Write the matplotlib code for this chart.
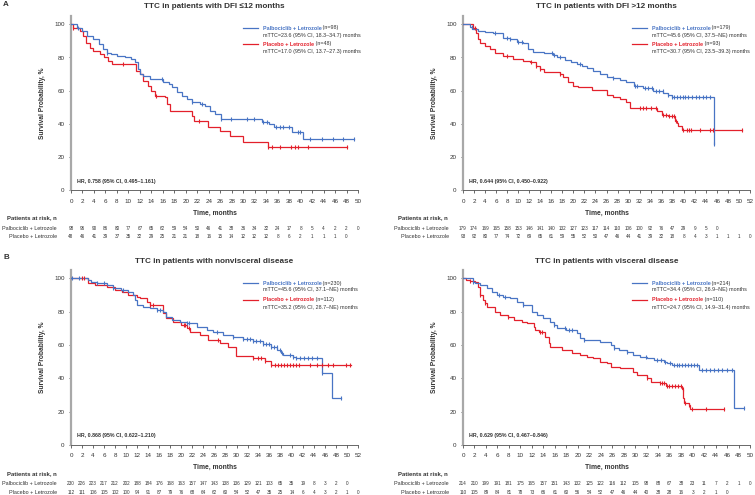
"""Time to chemotherapy (TTC) Kaplan-Meier curves by subgroup, 2x2 panels with at-risk tables."""

import matplotlib

matplotlib.use("Agg")
import matplotlib.pyplot as plt
import numpy as np
from matplotlib.lines import Line2D
from matplotlib.transforms import blended_transform_factory

plt.rcParams["font.family"] = ["Liberation Sans", "DejaVu Sans"]

BLUE = "#4874c4"
RED = "#e3202b"
DARK = "#333333"

# ---- panel A, left: DFI <=12 months --------------------------------------
le12_palbo_t = [0, 1.0, 1.9, 2.8, 3.9, 4.8, 5.6, 6.2, 6.9, 8.0, 9.4, 10.5, 11.1, 11.7, 12.0, 12.6,
                13.8, 16.0, 17.0, 17.6, 18.4, 19.3, 20.2, 21.0, 22.5, 23.3, 24.2, 25.1, 26.2, 33.3,
                34.5, 35.4, 38.5, 40.5, 49.3]
le12_palbo_s = [100, 98, 96, 93, 91, 88, 85, 83, 82, 81, 80, 79, 77, 73, 70, 69,
                67, 65, 64, 62, 59, 57, 55, 53, 52, 51, 48, 46, 43, 41,
                40, 38, 35, 31, 31]
le12_palbo_c = [1.3, 6.3, 15.8, 21.1, 22.9, 26.2, 27.9, 30.6, 31.8, 33.5, 34.1, 35.8, 36.4, 37.0,
                37.9, 39.5, 39.9, 41.6, 43.7, 45.7, 47.4, 49.3]
le12_plac_t = [0, 0.3, 1.6, 2.1, 2.7, 3.3, 3.9, 5.0, 5.8, 6.5, 7.1, 11.4, 12.0, 12.5, 13.5, 14.0, 14.6,
               16.4, 16.8, 17.2, 21.0, 21.5, 23.9, 26.0, 27.7, 30.0, 34.4, 48.0]
le12_plac_s = [100, 98, 96, 93, 89, 86, 84, 82, 80, 78, 76, 72, 70, 66, 63, 60, 57,
               56, 52, 48, 45, 42, 38, 36, 33, 29, 26, 26]
le12_plac_c = [0.4, 9.1, 14.8, 22.3, 34.4, 35.0, 36.4, 38.3, 39.0, 39.6, 41.3, 48.0]
le12_risk_palbo = [98, 96, 90, 86, 80, 77, 67, 65, 62, 59, 54, 50, 46, 41, 38, 36, 34, 32, 24, 17,
                   8, 5, 4, 2, 2, 0]
le12_risk_plac = [48, 46, 41, 39, 37, 35, 32, 29, 25, 21, 21, 18, 16, 15, 14, 12, 12, 12, 8, 6,
                  2, 1, 1, 1, 0]

# ---- panel A, right: DFI >12 months --------------------------------------
gt12_palbo_t = [0, 1.3, 1.7, 2.8, 4.0, 5.5, 7.3, 8.5, 9.7, 10.9, 11.8, 12.7, 14.6, 16.3, 17.0, 18.5,
                19.5, 20.6, 21.5, 22.4, 23.6, 24.8, 26.0, 27.2, 28.4, 29.6, 30.9, 32.7, 34.5, 36.3,
                37.2, 37.8, 45.5, 45.5]
gt12_palbo_s = [100, 98.5, 97, 96, 95.5, 94.5, 92, 91, 89.5, 88.5, 85, 83.5, 82.5, 81.5, 80, 78.5,
                77, 76, 75, 73.5, 72, 70, 68.5, 67.5, 66.5, 65.5, 63, 61.5, 60, 58.5,
                57.5, 56.5, 28, 28]
gt12_palbo_c = [1.6, 5.8, 7.9, 8.5, 10.0, 10.6, 16.1, 16.4, 17.6, 21.2, 27.2, 31.2, 31.5, 33.0, 33.6,
                34.2, 35.0, 35.6, 36.2, 37.2, 37.8, 38.3, 38.8, 39.3, 39.8, 40.3, 40.8, 41.5, 42.2,
                42.8, 43.4, 44.0, 44.7, 45.5]
gt12_plac_t = [0, 1.8, 2.4, 2.8, 3.1, 4.0, 4.9, 5.8, 7.3, 9.1, 10.9, 12.1, 13.3, 14.0, 14.6, 17.6,
               18.2, 19.1, 20.0, 20.9, 23.3, 26.0, 27.2, 28.4, 29.6, 30.3, 35.1, 36.0, 37.2, 38.4,
               38.7, 39.0, 39.6, 50.5]
gt12_plac_s = [100, 98, 95, 91, 89, 87, 85, 83, 81, 79, 78, 77, 75, 73, 71, 70,
               68, 65, 63, 62.5, 60.5, 57.5, 56.5, 55, 53, 49.5, 47.5, 45.5, 44.5, 42,
               40.5, 39, 36.5, 36.5]
gt12_plac_c = [2.2, 7.9, 12.4, 13.3, 14.0, 17.6, 32.0, 32.6, 33.2, 34.0, 35.0, 36.2, 36.8, 37.3,
               37.8, 38.2, 38.6, 39.9, 40.6, 41.0, 41.4, 42.9, 44.7, 45.3, 50.5]
gt12_risk_palbo = [179, 174, 169, 165, 158, 153, 146, 141, 140, 132, 127, 123, 117, 114, 110, 106,
                   100, 92, 76, 47, 29, 9, 5, 0]
gt12_risk_plac = [93, 92, 80, 77, 74, 72, 69, 65, 61, 59, 55, 52, 50, 47, 46, 44, 41, 39, 32, 18,
                  8, 4, 3, 1, 1, 1, 0]

# ---- panel B, left: nonvisceral disease ----------------------------------
nonv_palbo_t = [0, 3.0, 3.6, 4.7, 6.5, 7.7, 9.0, 10.4, 11.2, 11.6, 12.0, 13.1, 14.3, 15.5, 16.7,
                17.3, 18.3, 19.8, 21.0, 22.8, 24.6, 25.8, 27.6, 29.4, 31.2, 33.0, 34.8, 36.3, 37.4,
                38.1, 38.4, 40.2, 40.8, 45.4, 47.2, 49.0]
nonv_palbo_s = [100, 99, 98, 97, 96, 94, 93, 92, 90, 87, 84, 83, 82, 81, 80,
                77, 75, 74, 73, 71, 69, 68, 66, 65, 63.5, 62.5, 60.5, 59, 57,
                55, 54, 53, 52, 43, 28.5, 28.5]
nonv_palbo_c = [0.2, 1.4, 4.7, 5.9, 7.7, 9.5, 15.5, 16.1, 21.0, 21.3, 26.4, 29.4, 31.2, 31.8, 32.4,
                33.0, 33.6, 34.2, 34.8, 35.3, 35.8, 36.3, 36.8, 37.3, 37.8, 38.2, 39.6, 40.2, 40.8,
                41.5, 42.2, 43.0, 43.7, 44.5, 45.4, 49.0]
nonv_plac_t = [0, 3.0, 4.4, 6.5, 8.0, 9.2, 10.4, 11.9, 12.5, 13.7, 14.3, 16.7, 17.3, 18.5, 20.0,
               21.0, 21.6, 23.4, 24.9, 27.0, 28.5, 29.9, 32.9, 35.1, 36.3, 50.8]
nonv_plac_s = [100, 97, 96, 95, 93, 92, 90, 89, 88, 86, 84, 79, 76, 74, 72,
               70, 68, 66, 63, 61, 59, 53.5, 52, 50.5, 48, 48]
nonv_plac_c = [2.0, 2.3, 14.3, 14.9, 20.4, 20.7, 21.3, 26.7, 33.0, 33.9, 34.5, 35.1, 36.3, 36.9,
               37.5, 38.0, 38.6, 39.1, 39.7, 40.3, 40.8, 41.4, 43.3, 44.5, 45.5, 46.5, 47.5, 49.9,
               50.5]
nonv_risk_palbo = [230, 226, 223, 217, 212, 202, 188, 184, 176, 168, 163, 157, 147, 143, 138, 136,
                   129, 121, 103, 65, 35, 19, 8, 3, 2, 0]
nonv_risk_plac = [112, 111, 106, 105, 102, 100, 94, 91, 87, 79, 76, 68, 64, 62, 60, 54, 52, 47,
                  35, 25, 14, 6, 4, 3, 2, 1, 0]

# ---- panel B, right: visceral disease ------------------------------------
visc_palbo_t = [0, 1.8, 2.1, 3.0, 4.1, 5.0, 5.9, 7.0, 8.2, 9.4, 10.5, 12.0, 12.9, 14.0, 15.2, 15.8,
                16.4, 18.0, 19.8, 20.4, 21.0, 23.9, 25.7, 26.3, 27.1, 28.6, 29.7, 30.9, 32.0, 33.2,
                35.0, 35.6, 36.4, 41.1, 47.2, 49.0]
visc_palbo_s = [100, 98, 97, 96, 94, 92, 90, 89, 88, 86, 84, 80, 78, 76, 74, 72,
                70, 69, 67, 64, 63, 62, 60, 58, 57, 56, 54, 53, 52, 51,
                50, 49, 48, 45, 22, 22]
visc_palbo_c = [1.8, 6.2, 7.3, 10.5, 15.8, 17.8, 18.4, 19.0, 21.0, 26.3, 28.6, 31.8, 33.8, 34.5,
                35.2, 36.1, 36.7, 37.2, 37.7, 38.2, 38.7, 39.2, 39.7, 40.2, 40.8, 41.7, 42.3, 43.0,
                43.7, 44.4, 45.2, 46.0, 46.8, 49.0]
visc_plac_t = [0, 0.6, 1.2, 2.1, 2.6, 3.0, 3.4, 3.8, 4.1, 5.6, 6.5, 7.9, 8.8, 10.2, 11.2, 12.3, 12.6,
               13.2, 14.3, 14.9, 15.2, 17.2, 19.0, 20.4, 21.6, 22.7, 23.9, 25.1, 25.7, 27.4, 29.7,
               30.4, 32.0, 32.7, 34.4, 35.3, 38.2, 38.35, 38.5, 39.3, 39.6, 45.4]
visc_plac_s = [100, 99, 98.5, 98, 95, 90, 87, 85, 83, 80, 78, 77, 75, 74, 73, 71, 69,
               68, 65, 61, 59, 57, 55, 54, 53, 52, 50, 49, 47, 46, 44,
               42, 40, 38, 37, 35.4, 33.4, 28, 25, 24, 21.4, 21.4]
visc_plac_c = [1.2, 3.0, 3.8, 7.9, 13.4, 13.7, 32.1, 34.4, 34.7, 35.0, 35.6, 35.9, 36.4, 36.9,
               37.4, 37.9, 38.25, 38.6, 39.3, 39.9, 42.3, 45.4]
visc_risk_palbo = [214, 210, 199, 191, 181, 175, 165, 157, 151, 143, 132, 125, 122, 116, 112, 105,
                   98, 88, 67, 38, 23, 11, 7, 2, 1, 0]
visc_risk_plac = [110, 105, 89, 84, 81, 78, 73, 66, 61, 60, 56, 54, 52, 47, 46, 44, 40, 38, 28, 16,
                  3, 2, 1, 0]

titles = ["TTC in patients with DFI \u226412 months", "TTC in patients with DFI >12 months",
          "TTC in patients with nonvisceral disease", "TTC in patients with visceral disease"]
x_max = [50, 52, 52, 50]
n_palbo = [98, 179, 230, 214]
n_plac = [48, 93, 112, 110]
mttc_palbo = ["mTTC=23.6 (95% CI, 18.3\u201334.7) months", "mTTC=45.6 (95% CI, 37.5\u2013NE) months",
              "mTTC=45.6 (95% CI, 37.1\u2013NE) months", "mTTC=34.4 (95% CI, 26.9\u2013NE) months"]
mttc_plac = ["mTTC=17.0 (95% CI, 13.7\u201327.3) months", "mTTC=30.7 (95% CI, 23.5\u201339.3) months",
             "mTTC=35.2 (95% CI, 28.7\u2013NE) months", "mTTC=24.7 (95% CI, 14.9\u201331.4) months"]
hr_text = ["HR, 0.758 (95% CI, 0.495\u20131.161)", "HR, 0.644 (95% CI, 0.450\u20130.922)",
           "HR, 0.868 (95% CI, 0.622\u20131.210)", "HR, 0.629 (95% CI, 0.467\u20130.846)"]
y_ticks = [0, 20, 40, 60, 80, 100]

curves = [
    (le12_palbo_t, le12_palbo_s, le12_palbo_c, le12_plac_t, le12_plac_s, le12_plac_c,
     le12_risk_palbo, le12_risk_plac),
    (gt12_palbo_t, gt12_palbo_s, gt12_palbo_c, gt12_plac_t, gt12_plac_s, gt12_plac_c,
     gt12_risk_palbo, gt12_risk_plac),
    (nonv_palbo_t, nonv_palbo_s, nonv_palbo_c, nonv_plac_t, nonv_plac_s, nonv_plac_c,
     nonv_risk_palbo, nonv_risk_plac),
    (visc_palbo_t, visc_palbo_s, visc_palbo_c, visc_plac_t, visc_plac_s, visc_plac_c,
     visc_risk_palbo, visc_risk_plac),
]

W, H = 755, 495
fig = plt.figure(figsize=(W / 100, H / 100), dpi=100)
renderer = fig.canvas.get_renderer()


def fx(x):
    return x / W


def fy(y):
    return 1 - y / H


def txt(x, y, s, **kw):
    kw.setdefault("color", DARK)
    return fig.text(fx(x), fy(y), s, **kw)


def label_pair(x, y, strong, color, rest):
    t = txt(x, y, strong, color=color, fontsize=3.9, fontweight="bold", va="center")
    w = t.get_window_extent(renderer=renderer).width
    txt(x + w, y, rest, fontsize=3.9, va="center")


def km(ax, t, s, c, color):
    t = np.asarray(t, float)
    s = np.asarray(s, float)
    ax.step(t, s, where="post", color=color, lw=0.9, solid_joinstyle="miter", zorder=3)
    c = np.asarray(c, float)
    cy = s[np.searchsorted(t, c, side="right") - 1]
    ax.plot(c, cy, ls="none", marker="|", ms=3.4, mew=0.8, color=color, zorder=4)


# pixel layout of the four panels: left, top, right, bottom of the axes box
boxes = [(71, 16.0, 358, 190.3), (463, 16.0, 750, 190.3),
         (71, 270.0, 358, 445.0), (463, 270.0, 750, 445.0)]

for i, (l, t, r, b) in enumerate(boxes):
    p_t, p_s, p_c, q_t, q_s, q_c, risk_p, risk_q = curves[i]
    ax = fig.add_axes([fx(l), fy(b), (r - l) / W, (b - t) / H])
    km(ax, q_t, q_s, q_c, RED)
    km(ax, p_t, p_s, p_c, BLUE)
    ax.set_xlim(0, x_max[i])
    ax.set_ylim(0, 105)
    ax.set_xticks(np.arange(0, x_max[i] + 1, 2))
    ax.set_yticks(y_ticks)
    for side in ("top", "right"):
        ax.spines[side].set_visible(False)
    ax.spines["left"].set_color("#a8a8a8")
    ax.spines["left"].set_linewidth(1.6)
    ax.spines["bottom"].set_color("#505050")
    ax.spines["bottom"].set_linewidth(0.6)
    ax.tick_params(axis="x", length=1.8, width=0.6, pad=4.2, labelsize=4.5,
                   colors="#505050", labelcolor=DARK)
    ax.tick_params(axis="y", length=1.8, width=0.6, pad=2.8, labelsize=4.5,
                   colors="#505050", labelcolor=DARK)
    ax.set_ylabel("Survival Probability, %", fontsize=4.8, fontweight="bold", color=DARK)
    ax.yaxis.set_label_coords(-0.088, 0.5)

    right = i % 2 == 1
    top = i < 2
    cx = (l + r) / 2
    # title
    txt(cx, 6.0 if top else 261.7, titles[i], fontsize=5.9, fontweight="bold",
        ha="center", va="center")
    # legend
    lx0, lx1, tx = (632, 647, 651.7) if right else (243, 258, 262.7)
    ly = [28, 35, 44, 52] if top else [283.3, 290, 299.5, 307]
    fig.add_artist(Line2D([fx(lx0), fx(lx1)], [fy(ly[0])] * 2, color=BLUE, lw=0.9))
    fig.add_artist(Line2D([fx(lx0), fx(lx1)], [fy(ly[2])] * 2, color=RED, lw=0.9))
    label_pair(tx, ly[0], "Palbociclib + Letrozole", BLUE, f" (n={n_palbo[i]})")
    txt(tx, ly[1], mttc_palbo[i], fontsize=3.9, va="center")
    label_pair(tx, ly[2], "Placebo + Letrozole", RED, f" (n={n_plac[i]})")
    txt(tx, ly[3], mttc_plac[i], fontsize=3.9, va="center")
    # hazard ratio
    txt(469.3 if right else 76.7, 181.3 if top else 436, hr_text[i], fontsize=3.8,
        fontweight="bold", va="center")
    # axis caption and at-risk table
    txt(cx, 213 if top else 467.7, "Time, months", fontsize=4.9, fontweight="bold",
        ha="center", va="center")
    txt(398 if right else 7, 217.7 if top else 473.3, "Patients at risk, n", fontsize=4.3,
        fontweight="bold", va="center")
    row_y = (228, 237) if top else (483.3, 492)
    lab_x = 449 if right else 57
    trans = blended_transform_factory(ax.transData, fig.transFigure)
    for name, vals, yy in (("Palbociclib + Letrozole", risk_p, row_y[0]),
                           ("Placebo + Letrozole", risk_q, row_y[1])):
        txt(lab_x, yy, name, fontsize=3.9, ha="right", va="center")
        for k, v in enumerate(vals):
            ax.text(2 * k, fy(yy), str(v), transform=trans, fontsize=3.3, color=DARK,
                    ha="center", va="center", clip_on=False)

txt(3, 4.5, "A", fontsize=5.8, fontweight="bold", va="center")
txt(3, 257.5, "B", fontsize=5.8, fontweight="bold", va="center")

fig.savefig("out.png", dpi=100, facecolor="white")
